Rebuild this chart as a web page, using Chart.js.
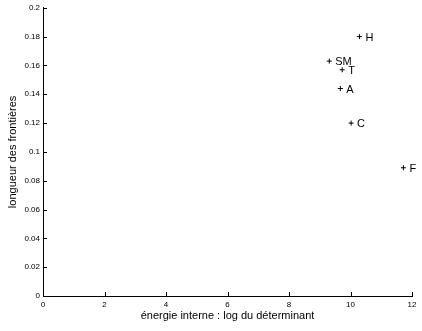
<!DOCTYPE html>
<html>
<head>
<meta charset="utf-8">
<script src="https://cdn.jsdelivr.net/npm/chart.js@4/dist/chart.umd.min.js"></script>
<style>
  html, body { margin: 0; padding: 0; background: #fff; }
</style>
</head>
<body>
<canvas id="c" width="422" height="331"></canvas>
<script>
// points
const noms = ['H', 'SM', 'T', 'A', 'C', 'F'];
const energie = [10.29, 9.31, 9.73, 9.67, 10.02, 11.72];
const longueur = [0.180, 0.163, 0.157, 0.144, 0.120, 0.089];

const xTicks = [0, 2, 4, 6, 8, 10, 12];
const yTicks = [0, 0.02, 0.04, 0.06, 0.08, 0.1, 0.12, 0.14, 0.16, 0.18, 0.2];

const police = 'Arial, "Liberation Sans", Helvetica, sans-serif';

// petits traits de graduation vers l'intérieur (style matlab)
const traitsInterieurs = {
  id: 'traitsInterieurs',
  afterDraw(chart) {
    const { ctx, chartArea: a, scales: { x, y } } = chart;
    ctx.save();
    ctx.strokeStyle = '#000';
    ctx.lineWidth = 1;
    ctx.beginPath();
    xTicks.forEach(v => {
      const px = Math.round(x.getPixelForValue(v)) + 0.5;
      ctx.moveTo(px, a.bottom);
      ctx.lineTo(px, a.bottom - 4);
    });
    yTicks.forEach(v => {
      const py = Math.round(y.getPixelForValue(v)) + 0.5;
      ctx.moveTo(a.left, py);
      ctx.lineTo(a.left + 4, py);
    });
    ctx.stroke();
    ctx.restore();
  }
};

// étiquettes à droite de chaque croix
const etiquettes = {
  id: 'etiquettes',
  afterDatasetsDraw(chart) {
    const ctx = chart.ctx;
    const meta = chart.getDatasetMeta(0);
    ctx.save();
    ctx.fillStyle = '#000';
    ctx.font = '11px ' + police;
    ctx.textAlign = 'left';
    ctx.textBaseline = 'middle';
    meta.data.forEach((pt, i) => {
      ctx.fillText(noms[i], pt.x + 6, pt.y + 1);
    });
    ctx.restore();
  }
};

new Chart(document.getElementById('c'), {
  type: 'scatter',
  data: {
    datasets: [{
      data: energie.map((e, i) => ({ x: e, y: longueur[i] })),
      pointStyle: 'cross',
      pointRadius: 2.5,
      pointHoverRadius: 2.5,
      borderColor: '#000',
      backgroundColor: '#000',
      borderWidth: 1
    }]
  },
  options: {
    responsive: false,
    animation: false,
    events: [],
    layout: { padding: { top: 7, right: 10, left: 0, bottom: 0 } },
    plugins: { legend: { display: false }, tooltip: { enabled: false } },
    scales: {
      x: {
        type: 'linear',
        min: 0, max: 12,
        afterFit: s => { s.height = 35; },
        afterBuildTicks: s => { s.ticks = xTicks.map(v => ({ value: v })); },
        grid: { drawOnChartArea: false, drawTicks: false },
        border: { color: '#000', width: 1 },
        ticks: { color: '#000', padding: 4, font: { size: 8, family: police }, maxRotation: 0 },
        title: {
          display: true,
          text: 'énergie interne : log du déterminant',
          color: '#000',
          font: { size: 11, family: police },
          padding: { top: 0, bottom: 8 }
        }
      },
      y: {
        min: 0, max: 0.2,
        afterFit: s => { s.width = 43; },
        afterBuildTicks: s => { s.ticks = yTicks.map(v => ({ value: v })); },
        grid: { drawOnChartArea: false, drawTicks: false },
        border: { color: '#000', width: 1 },
        ticks: {
          color: '#000', padding: 3, font: { size: 8, family: police },
          callback: v => String(+v.toFixed(2))
        },
        title: {
          display: true,
          text: 'longueur des frontières',
          color: '#000',
          font: { size: 11, family: police },
          padding: { top: 6, bottom: 0 }
        }
      }
    }
  },
  plugins: [traitsInterieurs, etiquettes]
});
</script>
</body>
</html>
